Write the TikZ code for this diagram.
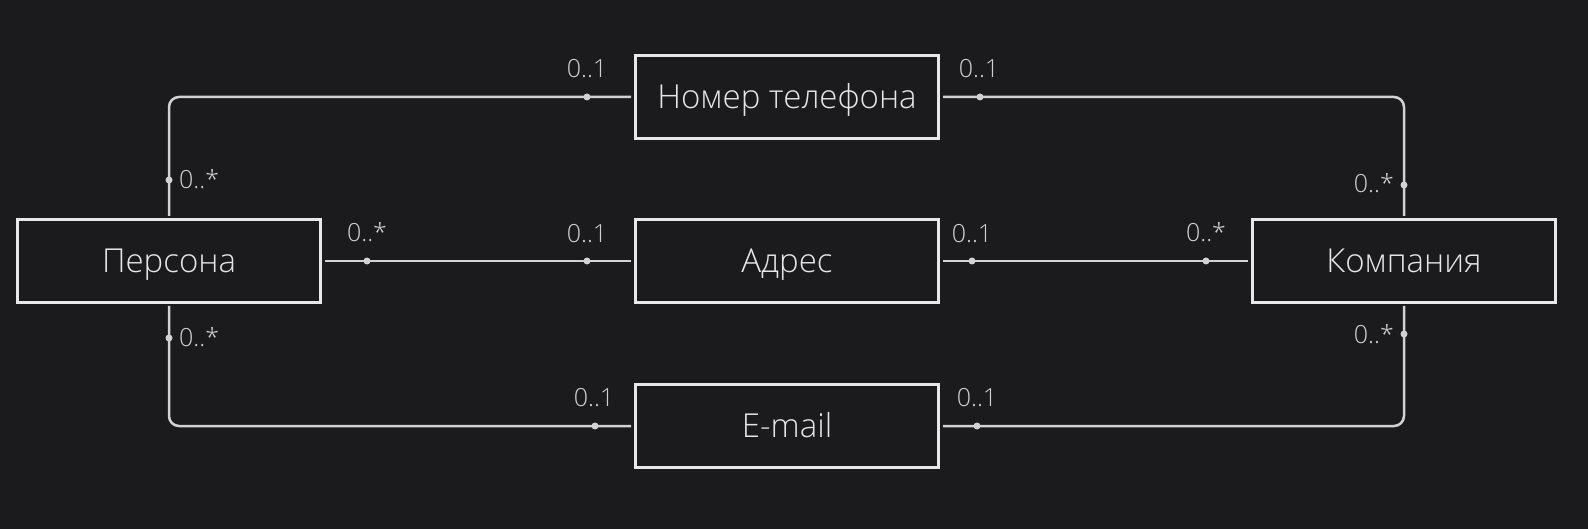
\documentclass[tikz,border=0pt]{standalone}
\usepackage{fontspec}
\setmainfont{Open Sans}[UprightFont=* Light]
\usetikzlibrary{calc}
\definecolor{bgc}{HTML}{1B1B1D}
\definecolor{boxc}{HTML}{E8E8E8}
\definecolor{linec}{HTML}{D2D2D2}
\definecolor{txtc}{HTML}{E6E6E6}
\definecolor{lblc}{HTML}{CFCFCF}
\tikzset{
  entity/.style={draw=boxc, line width=3pt, fill=bgc, minimum width=303pt, minimum height=83pt, inner sep=0pt, text height=23.6pt, text depth=0pt, text=txtc, font=\fontsize{33}{38}\selectfont},
  conn/.style={draw=linec, line width=2.5pt, rounded corners=10pt},
  mult/.style={text=lblc, font=\fontsize{25}{30}\selectfont, inner sep=0pt, text height=17.9pt, text depth=0pt},
  dotc/.style={fill=linec}
}
\begin{document}
\begin{tikzpicture}[x=1pt,y=-1pt]
\fill[bgc] (0,0) rectangle (1588,529);
\useasboundingbox (0,0) rectangle (1588,529);
\node[entity] (persona) at (169,261) {Персона};
\node[entity] (phone) at (787,97) {Номер телефона};
\node[entity] (addr) at (787,261) {Адрес};
\node[entity] (email) at (787,426) {E-mail};
\node[entity] (comp) at (1404,261) {Компания};
% connectors
\draw[conn] ([yshift=2pt]persona.north) |- ([xshift=-3pt]phone.west);
\draw[conn] ([xshift=3pt]phone.east) -| ([yshift=2pt]comp.north);
\draw[conn] ([xshift=3pt]persona.east) -- ([xshift=-3pt]addr.west);
\draw[conn] ([xshift=3pt]addr.east) -- ([xshift=-3pt]comp.west);
\draw[conn] ([yshift=-2pt]persona.south) |- ([xshift=-3pt]email.west);
\draw[conn] ([xshift=3pt]email.east) -| ([yshift=-2pt]comp.south);
% dots
\foreach \p in {(587,97),(980,97),(169,180),(1404,185),(367,261),(587,261),(972,261),(1206,261),(595,426),(977,426),(169,338),(1404,334)}
  \fill[dotc] \p circle (3.5pt);
% multiplicities
\node[mult] (m1) at (587,69) {0..1};
\node[mult] (m2) at (979,69) {0..1};
\node[mult, anchor=west] (m3) at (179,180) {0..*};
\node[mult, anchor=east] (m4) at (1394,184) {0..*};
\node[mult] (m5) at (367,233) {0..*};
\node[mult] (m6) at (587,234) {0..1};
\node[mult] (m7) at (972,234) {0..1};
\node[mult] (m8) at (1206,233) {0..*};
\node[mult, anchor=west] (m9) at (179,338) {0..*};
\node[mult, anchor=east] (m10) at (1394,335) {0..*};
\node[mult] (m11) at (594,398) {0..1};
\node[mult] (m12) at (977,398) {0..1};
\end{tikzpicture}
\end{document}
